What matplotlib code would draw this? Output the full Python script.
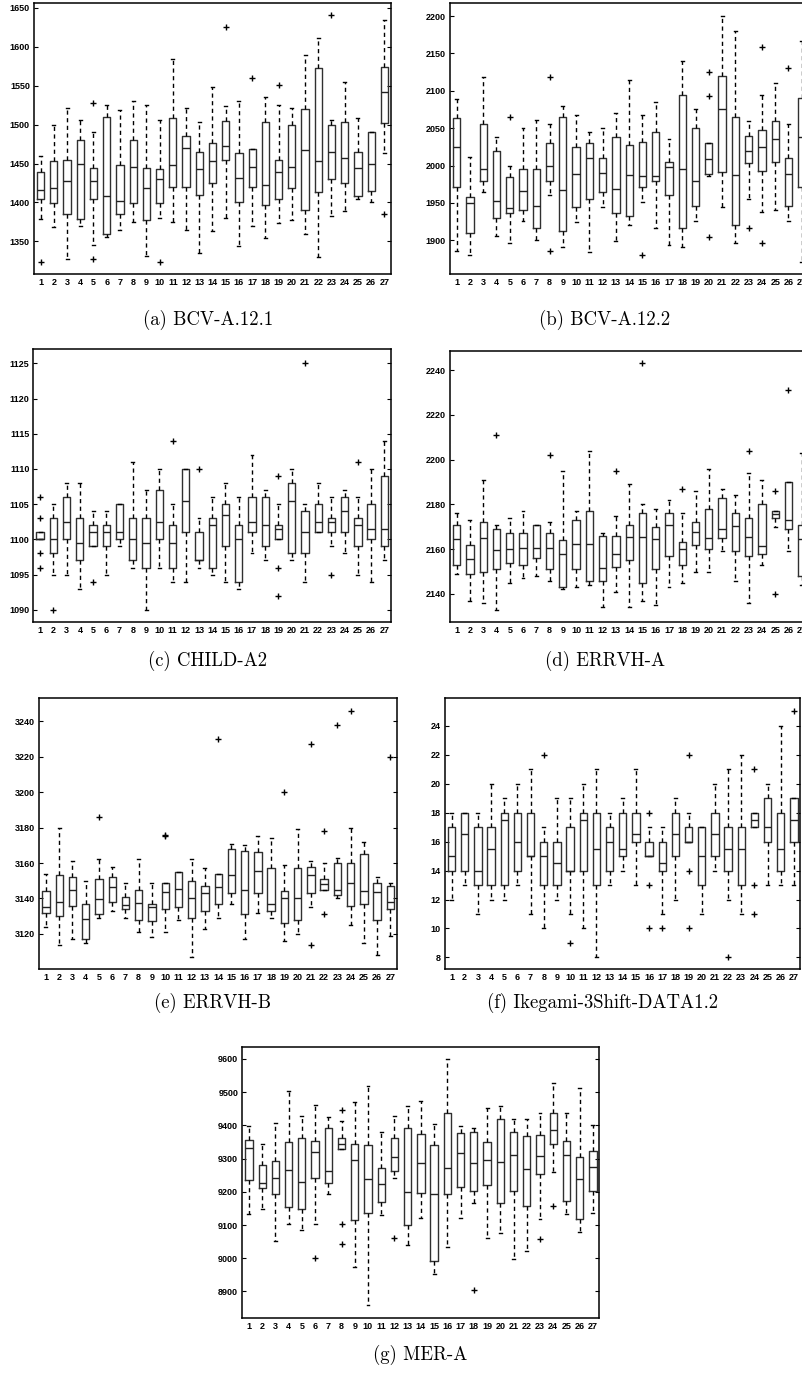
# -*- coding: utf-8 -*-

'''
Seven box plot panels, 27 boxes each, MATLAB style
'''

import numpy as np
import matplotlib
matplotlib.use('Agg')
import matplotlib.pyplot as plt

################################################################################
# data: whisker low, q1, median, q3, whisker high, outliers

boxes = list(range(1, 28))

a_lo = [1379, 1369, 1327, 1370, 1345, 1355, 1365, 1375, 1331, 1380, 1375, 1365, 1335, 1363,
        1380, 1344, 1370, 1354, 1374, 1378, 1359, 1330, 1382, 1389, 1405, 1401, 1463]
a_q1 = [1404, 1399, 1385, 1379, 1404, 1359, 1385, 1399, 1378, 1399, 1420, 1420, 1410, 1425,
        1455, 1401, 1420, 1397, 1404, 1419, 1390, 1413, 1430, 1425, 1408, 1415, 1502]
a_med = [1416, 1419, 1427, 1450, 1427, 1408, 1402, 1445, 1419, 1430, 1448, 1470, 1443, 1453,
         1473, 1432, 1446, 1422, 1439, 1446, 1467, 1453, 1465, 1457, 1444, 1450, 1542]
a_q3 = [1439, 1453, 1455, 1480, 1444, 1510, 1448, 1480, 1444, 1443, 1509, 1485, 1465, 1477,
        1505, 1463, 1469, 1504, 1454, 1500, 1520, 1573, 1500, 1504, 1465, 1490, 1574]
a_hi = [1460, 1500, 1521, 1506, 1490, 1525, 1519, 1531, 1525, 1506, 1584, 1521, 1504, 1548,
        1524, 1531, 1469, 1536, 1525, 1521, 1589, 1611, 1506, 1555, 1509, 1490, 1634]
a_out = {1: [1324], 5: [1528, 1327], 10: [1324], 15: [1626], 17: [1560], 19: [1551],
         23: [1641], 27: [1385]}

b_lo = [1886, 1880, 1964, 1906, 1896, 1926, 1901, 1961, 1891, 1925, 1884, 1944, 1899, 1921,
        1951, 1917, 1894, 1891, 1926, 1986, 1945, 1896, 1955, 1938, 1941, 1926, 1871]
b_q1 = [1971, 1910, 1980, 1930, 1936, 1940, 1916, 1980, 1913, 1944, 1955, 1965, 1936, 1932,
        1971, 1980, 1961, 1916, 1946, 1989, 1991, 1920, 2004, 1993, 2005, 1946, 1971]
b_med = [2025, 1950, 1995, 1952, 1943, 1966, 1946, 1999, 1967, 1989, 2010, 1990, 1969, 1988,
         1986, 1986, 1998, 1995, 1980, 2009, 2076, 1988, 2020, 2025, 2035, 1989, 2038]
b_q3 = [2063, 1958, 2055, 2020, 1985, 1995, 1995, 2030, 2065, 2025, 2030, 2010, 2038, 2027,
        2032, 2045, 2005, 2095, 2050, 2030, 2120, 2065, 2040, 2047, 2060, 2010, 2090]
b_hi = [2089, 2011, 2118, 2038, 2000, 2050, 2061, 2056, 2080, 2068, 2045, 2050, 2070, 2115,
        2068, 2085, 2036, 2140, 2076, 2030, 2200, 2180, 2060, 2095, 2111, 2056, 2166]
b_out = {5: [2065], 8: [2118, 1886], 15: [1880], 20: [2125, 2093, 1904], 23: [1916],
         24: [2159, 1896], 26: [2130]}

c_lo = [1100, 1095, 1095, 1093, 1099, 1095, 1099, 1096, 1090, 1096, 1094, 1094, 1096, 1095,
        1094, 1093, 1098, 1097, 1100, 1097, 1094, 1101, 1099, 1098, 1095, 1094, 1097]
c_q1 = [1100, 1098, 1100, 1097, 1099, 1099, 1100, 1097, 1096, 1100, 1096, 1101, 1097, 1096,
        1099, 1094, 1101, 1099, 1100, 1098, 1098, 1101, 1101, 1101, 1099, 1100, 1099]
c_med = [1100, 1100, 1102.5, 1099.5, 1101, 1101, 1101, 1100, 1099.5, 1102.5, 1099.5, 1105.5,
         1097, 1102, 1103.5, 1100, 1102.5, 1102, 1101.5, 1105.5, 1101, 1102.5, 1102.5, 1104,
         1102, 1101.5, 1101.5]
c_q3 = [1101, 1103, 1106, 1103, 1102, 1102, 1105, 1103, 1103, 1107, 1102, 1110, 1101, 1103,
        1105, 1102, 1106, 1106, 1102, 1108, 1104, 1105, 1103, 1106, 1103, 1105, 1109]
c_hi = [1101, 1105, 1108, 1108, 1104, 1104, 1105, 1111, 1107, 1110, 1105, 1110, 1103, 1106,
        1108, 1106, 1112, 1107, 1105, 1110, 1105, 1108, 1106, 1107, 1106, 1110, 1114]
c_out = {1: [1106, 1103, 1098, 1096], 2: [1090], 5: [1094], 11: [1114], 13: [1110],
         19: [1109, 1096, 1092], 21: [1125], 23: [1095], 25: [1111]}

d_lo = [2149, 2137, 2136, 2133, 2145, 2147, 2148, 2146, 2142, 2143, 2144, 2134, 2141, 2134,
        2137, 2135, 2143, 2145, 2150, 2150, 2159, 2146, 2136, 2153, 2170, 2159, 2144]
d_q1 = [2153, 2149, 2150, 2151, 2154, 2153, 2156, 2151, 2143, 2151, 2146, 2146, 2152, 2155,
        2145, 2151, 2157, 2153, 2162, 2160, 2165, 2159, 2157, 2158, 2174, 2169, 2148]
d_med = [2164.5, 2155.5, 2165, 2159.5, 2160, 2160.5, 2160.5, 2160.5, 2158, 2162.5, 2162.5,
         2151.5, 2158, 2165.5, 2165.5, 2164.5, 2171, 2160, 2167.5, 2165, 2169, 2170.5,
         2165.5, 2161.5, 2175.5, 2173, 2164.5]
d_q3 = [2171, 2162, 2172, 2169, 2167, 2167, 2171, 2167, 2164, 2173, 2177, 2166, 2166, 2171,
        2176, 2170, 2176, 2163, 2172, 2178, 2183, 2176, 2174, 2180, 2177, 2190, 2171]
d_hi = [2176, 2173, 2191, 2171, 2174, 2177, 2171, 2172, 2195, 2177, 2204, 2167, 2175, 2189,
        2180, 2178, 2182, 2176, 2186, 2196, 2187, 2184, 2194, 2191, 2177, 2190, 2203]
d_out = {4: [2211], 8: [2202], 13: [2195], 15: [2243], 18: [2187], 23: [2204],
         25: [2186, 2140], 26: [2231]}

e_lo = [3124, 3114, 3117, 3115, 3129, 3133, 3129, 3121, 3118, 3121, 3128, 3107, 3123, 3129,
        3137, 3117, 3132, 3129, 3116, 3120, 3135, 3145, 3140, 3125, 3115, 3108, 3119]
e_q1 = [3132, 3130, 3136, 3117, 3131, 3138, 3134, 3128, 3127, 3134, 3135, 3129, 3133, 3137,
        3143, 3131, 3143, 3133, 3126, 3128, 3143, 3145, 3142, 3136, 3137, 3128, 3134]
e_med = [3135, 3138, 3145, 3128.5, 3139.5, 3146.5, 3136.5, 3137.5, 3135, 3143.5, 3145.5,
         3140.5, 3143, 3146.5, 3153, 3145, 3155.5, 3137, 3140, 3140.5, 3153, 3148, 3145,
         3148.5, 3144, 3143.5, 3138]
e_q3 = [3144, 3153, 3152, 3137, 3151, 3152, 3141, 3145, 3137, 3149, 3155, 3150, 3147, 3154,
        3168, 3167, 3166, 3157, 3144, 3157, 3158, 3151, 3160, 3160, 3165, 3149, 3147]
e_hi = [3154, 3180, 3161, 3150, 3162, 3158, 3149, 3162, 3149, 3149, 3155, 3162, 3157, 3154,
        3171, 3170, 3175, 3174, 3159, 3179, 3161, 3160, 3163, 3180, 3172, 3152, 3149]
e_out = {5: [3186], 10: [3176, 3175], 14: [3230], 19: [3200], 21: [3227, 3114],
         22: [3178, 3131], 23: [3238], 24: [3246], 27: [3220]}

f_lo = [12, 13, 11, 12, 12, 13, 11, 10, 12, 11, 10, 8, 13, 14, 13, 15, 11, 12, 16, 11, 14,
        12, 11, 17, 13, 13, 13]
f_q1 = [14, 14, 13, 13, 13, 14, 15, 13, 13, 14, 14, 13, 14, 15, 16, 15, 14, 15, 16, 13, 15,
        14, 13, 17, 16, 14, 16]
f_med = [15, 16.5, 14, 15.5, 17.5, 16, 15, 15, 14.5, 14, 17.5, 15.5, 16, 15.5, 16.5, 15,
         14.5, 16.5, 16, 15, 16.5, 15.5, 15.5, 17.5, 17, 15.5, 17.5]
f_q3 = [17, 18, 17, 17, 18, 18, 18, 16, 16, 17, 18, 18, 17, 18, 18, 16, 16, 18, 17, 17, 18,
        17, 17, 18, 19, 18, 19]
f_hi = [18, 18, 18, 20, 19, 20, 21, 17, 19, 19, 20, 21, 18, 19, 21, 17, 17, 19, 18, 17, 20,
        21, 22, 18, 20, 24, 19]
f_out = {8: [22], 10: [9], 16: [18, 13, 10], 17: [10], 19: [22, 14, 10], 22: [8],
         24: [21, 13, 11], 27: [25]}

g_lo = [9132, 9148, 9053, 9102, 9085, 9104, 9194, 9328, 8974, 8860, 9131, 9242, 9040, 9120,
        8952, 9033, 9122, 9167, 9060, 9077, 8998, 9023, 9117, 9261, 9134, 9080, 9135]
g_q1 = [9235, 9211, 9192, 9154, 9148, 9242, 9226, 9328, 9115, 9136, 9168, 9262, 9100, 9195,
        8992, 9192, 9215, 9203, 9221, 9165, 9203, 9156, 9254, 9344, 9173, 9117, 9203]
g_med = [9331, 9226, 9243, 9265, 9230, 9319, 9264, 9345, 9295, 9238, 9223, 9304, 9198, 9286,
         9194, 9273, 9317, 9286, 9297, 9289, 9311, 9268, 9309, 9386, 9310, 9239, 9274]
g_q3 = [9355, 9280, 9292, 9350, 9362, 9353, 9392, 9361, 9345, 9340, 9272, 9363, 9393, 9373,
        9340, 9438, 9378, 9381, 9349, 9418, 9379, 9368, 9370, 9438, 9354, 9306, 9323]
g_hi = [9397, 9345, 9408, 9504, 9429, 9461, 9425, 9414, 9470, 9519, 9381, 9427, 9458, 9473,
        9403, 9600, 9398, 9393, 9451, 9458, 9418, 9419, 9436, 9529, 9437, 9512, 9401]
g_out = {6: [9000], 8: [9445, 9103, 9043], 12: [9061], 18: [8904], 23: [9058], 24: [9158]}

captions = ['(a) BCV-A.12.1', '(b) BCV-A.12.2', '(c) CHILD-A2', '(d) ERRVH-A',
            '(e) ERRVH-B', '(f) Ikegami-3Shift-DATA1.2', '(g) MER-A']

################################################################################

W, H = 803, 1379

def px_axes(fig, left, right, top, bottom):
    return fig.add_axes([left / W, 1 - bottom / H, (right - left) / W, (bottom - top) / H])

def draw_panel(ax, lo, q1, med, q3, hi, out, yticks, ylim):
    stats = []
    for i, b in enumerate(boxes):
        stats.append({'whislo': lo[i], 'q1': q1[i], 'med': med[i], 'q3': q3[i],
                      'whishi': hi[i], 'fliers': out.get(b, [])})
    ax.bxp(stats, positions=boxes, widths=0.55, capwidths=0.22,
           boxprops=dict(color='#303030', linewidth=1.0),
           medianprops=dict(color='#202020', linewidth=1.0),
           whiskerprops=dict(color='black', linewidth=1.0, linestyle=(0, (3, 2.5))),
           capprops=dict(color='black', linewidth=1.0),
           flierprops=dict(marker='+', markeredgecolor='black', markersize=5,
                           markeredgewidth=1.0, linestyle='none'))
    ax.set_xlim(0.5, 27.5)
    ax.set_ylim(*ylim)
    ax.set_yticks(yticks)
    ax.set_xticks(boxes)
    ax.set_xticklabels([str(b) for b in boxes])
    ax.tick_params(axis='y', direction='in', length=3, width=0.8, right=True, pad=3,
                   labelsize=6.5)
    ax.tick_params(axis='x', length=0, pad=3, labelsize=6.5)
    for lab in ax.get_xticklabels() + ax.get_yticklabels():
        lab.set_fontweight('bold')
        lab.set_family('Liberation Sans')
    for sp in ax.spines.values():
        sp.set_linewidth(1.1)

def caption(fig, x, y, text):
    fig.text(x / W, 1 - y / H, text, ha='center', va='center', fontsize=13.5,
             family=['cmr10', 'DejaVu Serif'])

################################################################################

if __name__ == "__main__":

    fig = plt.figure(figsize=(W / 100, H / 100), dpi=100)

    ax = px_axes(fig, 34, 391, 3.3, 274)
    draw_panel(ax, a_lo, a_q1, a_med, a_q3, a_hi, a_out, np.arange(1350, 1651, 50), (1308, 1656))

    ax = px_axes(fig, 450, 808.4, 3.3, 274)
    draw_panel(ax, b_lo, b_q1, b_med, b_q3, b_hi, b_out, np.arange(1900, 2201, 50), (1855, 2217))

    ax = px_axes(fig, 33.5, 391, 349.3, 621.7)
    draw_panel(ax, c_lo, c_q1, c_med, c_q3, c_hi, c_out, np.arange(1090, 1126, 5), (1088.3, 1127))

    ax = px_axes(fig, 450, 808.4, 351, 621.7)
    draw_panel(ax, d_lo, d_q1, d_med, d_q3, d_hi, d_out, np.arange(2140, 2241, 20), (2127.6, 2248.5))

    ax = px_axes(fig, 39.3, 397, 698.3, 969.3)
    draw_panel(ax, e_lo, e_q1, e_med, e_q3, e_hi, e_out, np.arange(3120, 3241, 20), (3100, 3253))

    ax = px_axes(fig, 445, 800.5, 698.3, 969)
    draw_panel(ax, f_lo, f_q1, f_med, f_q3, f_hi, f_out, np.arange(8, 25, 2), (7.2, 25.9))

    ax = px_axes(fig, 242.3, 599.5, 1046.7, 1317.7)
    draw_panel(ax, g_lo, g_q1, g_med, g_q3, g_hi, g_out, np.arange(8900, 9601, 100), (8821, 9637))

    cap_pos = [(208, 320), (605, 320), (208, 661), (605, 661), (213, 1003), (603, 1003), (420, 1355)]
    for (x, y), t in zip(cap_pos, captions):
        caption(fig, x, y, t)

    fig.savefig('out.png', dpi=100)
